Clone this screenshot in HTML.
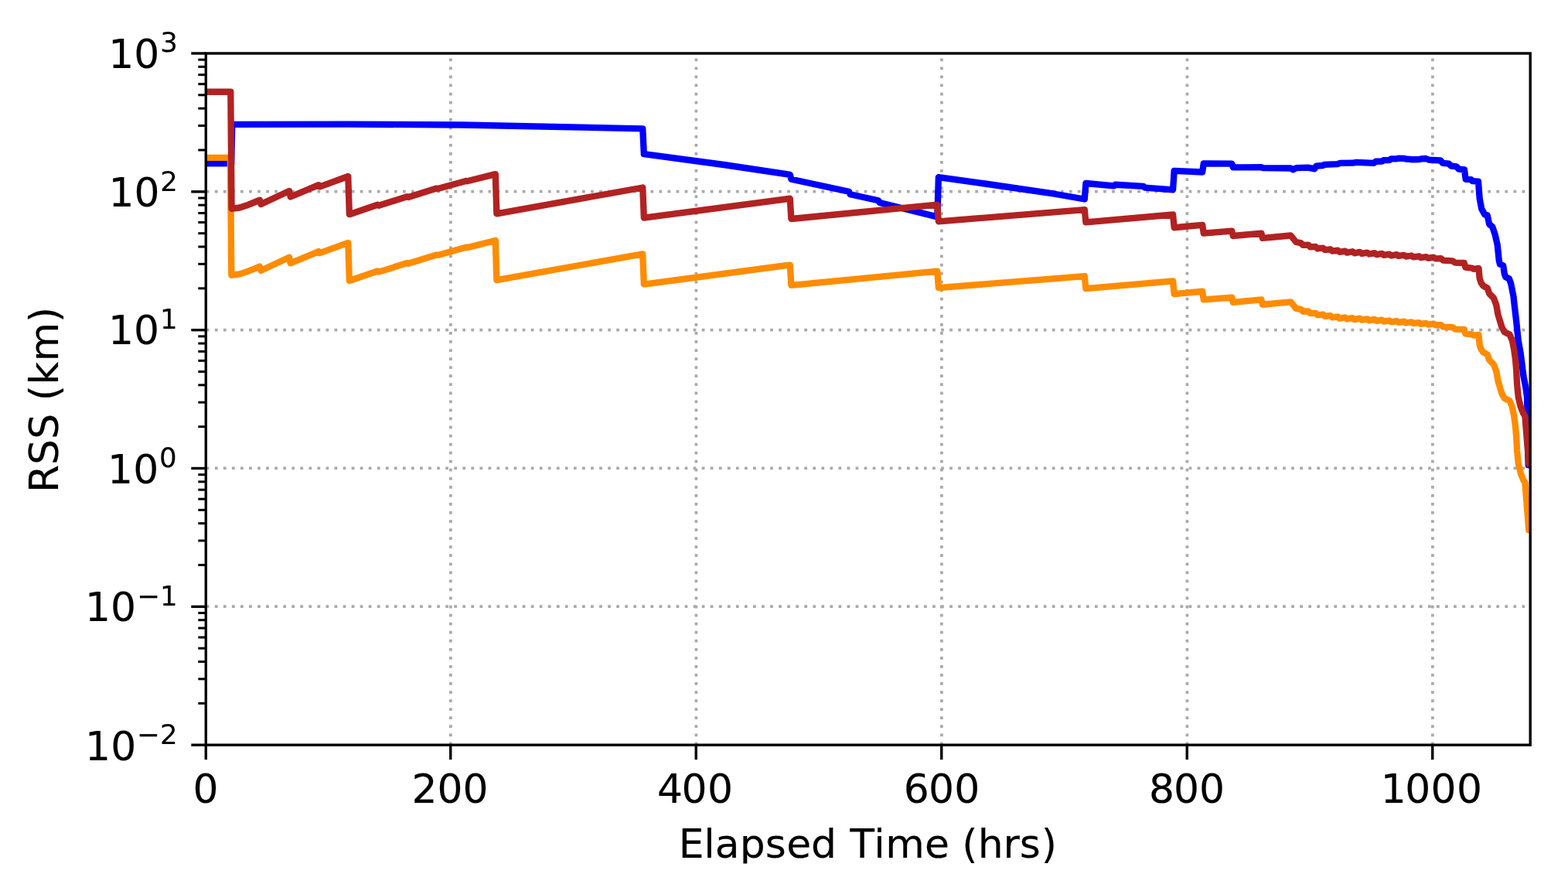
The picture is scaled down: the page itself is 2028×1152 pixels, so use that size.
<!DOCTYPE html>
<html lang="en"><head><meta charset="utf-8"><title>RSS vs Elapsed Time</title>
<style>
html,body{margin:0;padding:0;background:#fff;}
body{width:2028px;height:1152px;overflow:hidden;}
svg{display:block;}
text{font-family:"DejaVu Sans","Liberation Sans",sans-serif;fill:#000;stroke:#000;stroke-width:0.16px;stroke-linejoin:round;}
.tl{font-size:51.9px;}
.sup{font-size:35.6px;}
.curve{fill:none;stroke-width:8.33;stroke-linejoin:round;stroke-linecap:butt;}
</style></head><body>
<svg width="2028" height="1152" viewBox="0 0 2028 1152">
<rect x="0" y="0" width="2028" height="1152" fill="#ffffff"/>
<defs><clipPath id="ax"><rect x="266.3" y="69" width="1712.9" height="894.2"/></clipPath><clipPath id="fig"><rect x="35.5" y="0" width="1992.5" height="1116.5"/></clipPath></defs>
<g stroke="#aaaaaa" stroke-width="3.75" stroke-dasharray="3.75 7.3" fill="none" clip-path="url(#ax)">
<path d="M582.90 963.20V69.00"/>
<path d="M900.40 963.20V69.00"/>
<path d="M1217.90 963.20V69.00"/>
<path d="M1535.40 963.20V69.00"/>
<path d="M1852.90 963.20V69.00"/>
<path d="M266.80 247.69H1979.20"/>
<path d="M266.80 426.53H1979.20"/>
<path d="M266.80 605.37H1979.20"/>
<path d="M266.80 784.21H1979.20"/>
</g>
<g clip-path="url(#ax)">
<path class="curve" stroke="#0000ff" d="M266.20 211.35 L299.20 211.35 L300.30 160.90 L450.00 160.60 L598.00 161.50 L831.25 166.30 L832.85 199.20 L936.00 213.00 L1021.75 225.80 L1023.35 231.70 L1097.96 247.70 L1099.56 251.30 L1136.06 259.30 L1137.65 262.00 L1212.26 280.40 L1213.86 229.20 L1274.00 237.50 L1364.00 250.60 L1365.50 251.00 L1402.76 257.50 L1404.36 237.00 L1440.86 240.30 L1442.45 238.75 L1478.96 240.80 L1480.56 242.60 L1517.06 245.30 L1518.65 220.80 L1555.15 222.50 L1556.75 211.30 L1593.26 211.70 L1594.86 216.30 L1612.00 216.40 L1631.36 216.25 L1632.95 217.10 L1669.20 217.50 L1672.50 219.30 L1676.70 217.10 L1691.70 216.70 L1700.00 218.30 L1702.50 214.60 L1710.80 214.00 L1712.50 212.90 L1730.00 212.10 L1733.30 210.80 L1750.00 210.70 L1754.20 209.80 L1777.00 210.80 L1779.50 208.75 L1787.50 208.60 L1789.50 207.10 L1797.00 207.00 L1799.00 205.40 L1806.50 205.30 L1808.50 204.70 L1815.70 204.80 L1819.00 205.70 L1827.30 206.25 L1835.70 206.20 L1838.20 205.30 L1844.00 205.00 L1848.20 206.70 L1863.20 207.50 L1865.70 210.80 L1873.70 211.70 L1877.00 214.70 L1883.70 215.30 L1886.50 218.60 L1894.00 219.50 L1895.70 231.80 L1902.50 232.10 L1904.50 234.20 L1912.00 234.70 L1913.70 256.70 L1916.20 270.00 L1920.30 277.50 L1923.70 278.30 L1926.20 290.00 L1930.30 293.30 L1933.70 303.30 L1936.70 316.70 L1938.75 336.70 L1940.00 341.70 L1944.20 343.30 L1945.80 354.20 L1947.50 358.30 L1951.70 360.00 L1954.20 366.70 L1957.50 383.30 L1958.20 390.00 L1961.10 415.00 L1963.70 440.00 L1966.70 456.70 L1968.30 469.20 L1970.40 486.00 L1970.80 488.30 L1973.30 500.80 L1975.00 513.00 L1975.60 540.00 L1976.00 575.00 L1976.70 601.30 L1986.00 601.30"/>
<path class="curve" stroke="#ff8c00" d="M266.20 203.95 L297.90 203.95 L299.30 355.75 L310.00 354.35 L318.30 351.65 L326.70 348.35 L335.95 344.55 L337.56 349.85 L374.06 332.75 L375.66 340.35 L412.15 325.05 L413.75 327.15 L450.25 313.85 L451.86 363.05 L488.35 350.55 L489.95 351.65 L526.46 340.05 L528.05 340.85 L564.56 329.45 L566.15 329.95 L602.65 319.75 L604.25 320.15 L640.75 310.95 L642.35 362.15 L831.25 328.35 L832.85 367.55 L1021.75 342.55 L1023.35 368.85 L1212.26 350.55 L1213.86 372.15 L1402.76 357.05 L1404.36 373.15 L1517.06 363.35 L1518.65 380.15 L1555.15 376.75 L1556.75 387.45 L1593.26 384.55 L1594.86 390.85 L1631.36 387.45 L1632.95 393.75 L1669.45 390.35 L1676.30 398.85 L1682.50 399.97 L1685.10 402.72 L1692.03 402.40 L1694.63 405.11 L1701.56 404.80 L1704.16 407.31 L1711.09 406.54 L1713.69 408.97 L1720.62 408.13 L1723.22 410.49 L1730.15 409.50 L1732.75 411.75 L1739.68 410.44 L1742.28 412.53 L1749.21 411.14 L1751.81 413.19 L1758.74 411.67 L1761.34 413.68 L1768.27 412.44 L1770.87 414.38 L1777.80 412.94 L1780.40 414.90 L1787.33 413.70 L1789.93 415.70 L1796.86 414.49 L1799.46 416.34 L1806.39 415.01 L1808.99 416.83 L1815.92 415.65 L1818.52 417.49 L1825.45 416.35 L1828.05 418.17 L1834.98 417.14 L1837.58 418.93 L1844.51 417.93 L1847.11 419.65 L1854.04 418.54 L1856.64 420.22 L1863.70 420.05 L1866.50 422.55 L1878.70 423.15 L1882.00 425.55 L1893.70 425.85 L1895.30 431.45 L1903.70 432.45 L1906.00 433.65 L1912.50 432.85 L1913.70 445.85 L1915.50 451.35 L1918.30 455.35 L1923.70 458.35 L1926.20 465.35 L1932.00 471.35 L1935.30 480.35 L1937.50 492.55 L1942.50 509.15 L1945.80 515.05 L1952.50 518.35 L1955.80 525.85 L1958.30 538.35 L1960.00 550.85 L1961.25 565.85 L1962.10 582.55 L1963.75 599.15 L1966.70 611.65 L1970.00 620.05 L1972.50 624.15 L1973.40 636.65 L1975.00 655.85 L1976.40 673.85 L1977.30 685.45 L1986.00 685.45"/>
<path class="curve" stroke="#b22222" d="M266.20 118.75 L298.30 118.75 L299.60 269.90 L310.00 268.50 L318.30 265.80 L326.70 262.50 L335.95 258.70 L337.56 264.00 L374.06 246.90 L375.66 254.50 L412.15 239.20 L413.75 241.30 L450.25 228.00 L451.86 277.20 L488.35 264.70 L489.95 265.80 L526.46 254.20 L528.05 255.00 L564.56 243.60 L566.15 244.10 L602.65 233.90 L604.25 234.30 L640.75 225.10 L642.35 276.30 L831.25 242.50 L832.85 281.70 L1021.75 256.70 L1023.35 283.00 L1212.26 264.70 L1213.86 286.30 L1402.76 271.20 L1404.36 287.30 L1517.06 277.50 L1518.65 294.30 L1555.15 290.90 L1556.75 301.60 L1593.26 298.70 L1594.86 305.00 L1631.36 301.60 L1632.95 307.90 L1669.45 304.50 L1676.30 313.00 L1682.50 314.12 L1685.10 316.87 L1692.03 316.55 L1694.63 319.26 L1701.56 318.95 L1704.16 321.46 L1711.09 320.69 L1713.69 323.12 L1720.62 322.28 L1723.22 324.64 L1730.15 323.65 L1732.75 325.90 L1739.68 324.59 L1742.28 326.68 L1749.21 325.29 L1751.81 327.34 L1758.74 325.82 L1761.34 327.83 L1768.27 326.59 L1770.87 328.53 L1777.80 327.09 L1780.40 329.05 L1787.33 327.85 L1789.93 329.85 L1796.86 328.64 L1799.46 330.49 L1806.39 329.16 L1808.99 330.98 L1815.92 329.80 L1818.52 331.64 L1825.45 330.50 L1828.05 332.32 L1834.98 331.29 L1837.58 333.08 L1844.51 332.08 L1847.11 333.80 L1854.04 332.69 L1856.64 334.37 L1863.70 334.20 L1866.50 336.70 L1878.70 337.30 L1882.00 339.70 L1893.70 340.00 L1895.30 345.60 L1903.70 346.60 L1906.00 347.80 L1912.50 347.00 L1913.70 360.00 L1915.50 365.50 L1918.30 369.50 L1923.70 372.50 L1926.20 379.50 L1932.00 385.50 L1935.30 394.50 L1937.50 406.70 L1942.50 423.30 L1945.80 429.20 L1952.50 432.50 L1955.80 440.00 L1958.30 452.50 L1960.00 465.00 L1961.25 480.00 L1962.10 496.70 L1963.75 513.30 L1966.70 525.80 L1970.00 534.20 L1972.50 538.30 L1973.40 550.80 L1975.00 570.00 L1976.40 588.00 L1977.30 599.60 L1986.00 599.60"/>
</g>
<g stroke="#000" stroke-width="3.4" fill="none">
<path d="M266.30 963.20v19.00"/>
<path d="M582.75 963.20v19.00"/>
<path d="M900.25 963.20v19.00"/>
<path d="M1217.75 963.20v19.00"/>
<path d="M1535.25 963.20v19.00"/>
<path d="M1852.75 963.20v19.00"/>
<path d="M266.30 69.00h-19.00"/>
<path d="M266.30 247.84h-19.00"/>
<path d="M266.30 426.68h-19.00"/>
<path d="M266.30 605.52h-19.00"/>
<path d="M266.30 784.36h-19.00"/>
<path d="M266.30 963.20h-19.00"/>
</g>
<g stroke="#000" stroke-width="3" fill="none">
<path d="M266.30 194.00h-10.00"/>
<path d="M266.30 162.51h-10.00"/>
<path d="M266.30 140.17h-10.00"/>
<path d="M266.30 122.84h-10.00"/>
<path d="M266.30 108.68h-10.00"/>
<path d="M266.30 96.70h-10.00"/>
<path d="M266.30 86.33h-10.00"/>
<path d="M266.30 77.18h-10.00"/>
<path d="M266.30 372.84h-10.00"/>
<path d="M266.30 341.35h-10.00"/>
<path d="M266.30 319.01h-10.00"/>
<path d="M266.30 301.68h-10.00"/>
<path d="M266.30 287.52h-10.00"/>
<path d="M266.30 275.54h-10.00"/>
<path d="M266.30 265.17h-10.00"/>
<path d="M266.30 256.02h-10.00"/>
<path d="M266.30 551.68h-10.00"/>
<path d="M266.30 520.19h-10.00"/>
<path d="M266.30 497.85h-10.00"/>
<path d="M266.30 480.52h-10.00"/>
<path d="M266.30 466.36h-10.00"/>
<path d="M266.30 454.38h-10.00"/>
<path d="M266.30 444.01h-10.00"/>
<path d="M266.30 434.86h-10.00"/>
<path d="M266.30 730.52h-10.00"/>
<path d="M266.30 699.03h-10.00"/>
<path d="M266.30 676.69h-10.00"/>
<path d="M266.30 659.36h-10.00"/>
<path d="M266.30 645.20h-10.00"/>
<path d="M266.30 633.22h-10.00"/>
<path d="M266.30 622.85h-10.00"/>
<path d="M266.30 613.70h-10.00"/>
<path d="M266.30 909.36h-10.00"/>
<path d="M266.30 877.87h-10.00"/>
<path d="M266.30 855.53h-10.00"/>
<path d="M266.30 838.20h-10.00"/>
<path d="M266.30 824.04h-10.00"/>
<path d="M266.30 812.06h-10.00"/>
<path d="M266.30 801.69h-10.00"/>
<path d="M266.30 792.54h-10.00"/>
</g>
<rect x="266.3" y="69" width="1712.9" height="894.2" fill="none" stroke="#000" stroke-width="3.4" stroke-linejoin="miter"/>
<text class="tl" x="266.00" y="1037.80" text-anchor="middle">0</text>
<text class="tl" x="582.00" y="1037.80" text-anchor="middle">200</text>
<text class="tl" x="849.9 881.5 914.9" y="1037.80">400</text>
<text class="tl" x="1168.8 1200.9 1234.2" y="1037.80">600</text>
<text class="tl" x="1485.9 1518.0 1550.9" y="1037.80">800</text>
<text class="tl" x="1785.85 1817.2 1850.5 1883.9" y="1037.80">1000</text>
<text class="tl" x="140.13 173.21 207.35" y="88.10 88.10 67.20">10<tspan class="sup">3</tspan></text>
<text class="tl" x="140.50 173.58 207.30" y="266.90 266.90 246.60">10<tspan class="sup">2</tspan></text>
<text class="tl" x="139.90 172.98 206.90" y="444.60 444.60 425.40">10<tspan class="sup">1</tspan></text>
<text class="tl" x="139.10 172.18 206.10" y="624.90 624.90 604.10">10<tspan class="sup">0</tspan></text>
<text class="tl" x="109.90 142.98 177.20 206.90" y="802.60 802.60 783.30 783.30">10<tspan class="sup">−1</tspan></text>
<text class="tl" x="110.10 143.18 177.10 207.00" y="982.70 982.70 962.30 962.30">10<tspan class="sup">−2</tspan></text>
<text class="tl" clip-path="url(#fig)" x="877.65 910.2 924.75 956.7 989.7 1017.2 1049.1 1083.7 1099.15 1130.2 1145.25 1196.1 1227.5 1244.2 1264.85 1297.5 1318.7 1346.65" y="1109.1">Elapsed Time (hrs)</text>
<text class="tl" transform="translate(75.00 516.80) rotate(-90)" text-anchor="middle" style="letter-spacing:0.13px">RSS (km)</text>
</svg>
</body></html>
